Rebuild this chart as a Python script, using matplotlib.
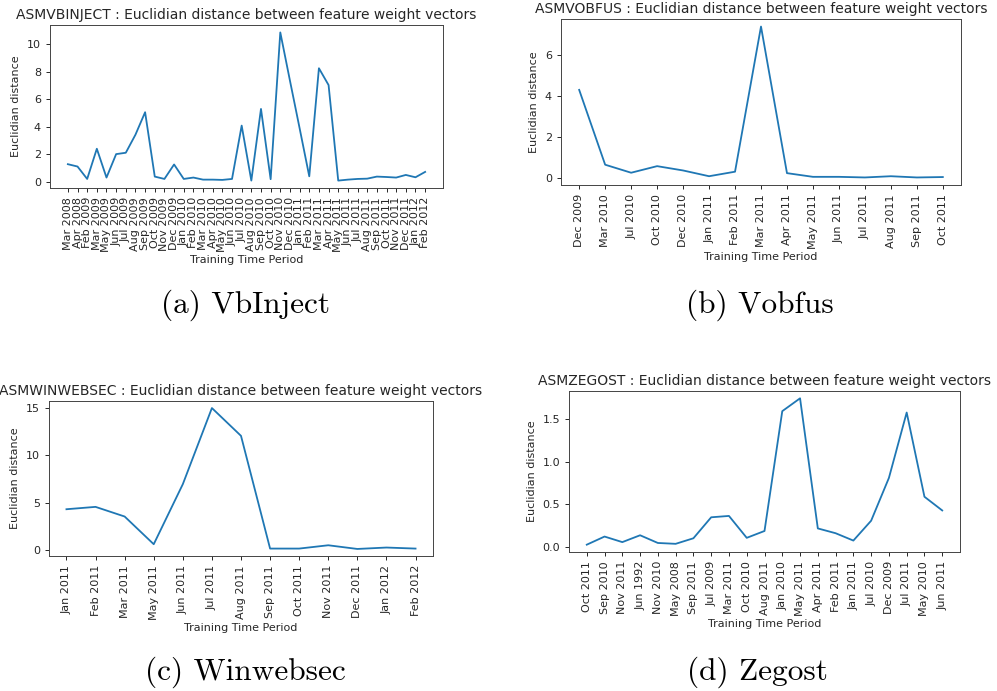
import matplotlib
matplotlib.use('Agg')
import matplotlib.pyplot as plt

W, H = 997, 691

# (a) VbInject
vbinject_labels = ['Mar 2008', 'Apr 2008', 'Feb 2009', 'Mar 2009', 'May 2009', 'Jun 2009',
                   'Jul 2009', 'Aug 2009', 'Sep 2009', 'Oct 2009', 'Nov 2009', 'Dec 2009',
                   'Jan 2010', 'Feb 2010', 'Mar 2010', 'Apr 2010', 'May 2010', 'Jun 2010',
                   'Jul 2010', 'Aug 2010', 'Sep 2010', 'Oct 2010', 'Nov 2010', 'Dec 2010',
                   'Jan 2011', 'Feb 2011', 'Mar 2011', 'Apr 2011', 'May 2011', 'Jun 2011',
                   'Jul 2011', 'Aug 2011', 'Sep 2011', 'Oct 2011', 'Nov 2011', 'Dec 2011',
                   'Jan 2012', 'Feb 2012']
vbinject_vals = [1.29, 1.12, 0.22, 2.41, 0.32, 2.02, 2.12, 3.43, 5.06, 0.39, 0.22, 1.27,
                 0.22, 0.32, 0.17, 0.17, 0.15, 0.22, 4.09, 0.10, 5.30, 0.20, 10.85, 7.35,
                 3.90, 0.41, 8.25, 7.03, 0.10, 0.17, 0.22, 0.24, 0.39, 0.36, 0.32, 0.51,
                 0.34, 0.73]

# (b) Vobfus
vobfus_labels = ['Dec 2009', 'Mar 2010', 'Jul 2010', 'Oct 2010', 'Dec 2010', 'Jan 2011',
                 'Feb 2011', 'Mar 2011', 'Apr 2011', 'May 2011', 'Jun 2011', 'Jul 2011',
                 'Aug 2011', 'Sep 2011', 'Oct 2011']
vobfus_vals = [4.31, 0.67, 0.28, 0.60, 0.39, 0.11, 0.33, 7.39, 0.26, 0.08, 0.08, 0.05,
               0.11, 0.05, 0.07]

# (c) Winwebsec
winwebsec_labels = ['Jan 2011', 'Feb 2011', 'Mar 2011', 'May 2011', 'Jun 2011', 'Jul 2011',
                    'Aug 2011', 'Sep 2011', 'Oct 2011', 'Nov 2011', 'Dec 2011', 'Jan 2012',
                    'Feb 2012']
winwebsec_vals = [4.30, 4.55, 3.53, 0.60, 6.95, 15.0, 12.06, 0.14, 0.14, 0.49, 0.10, 0.25, 0.14]

# (d) Zegost
zegost_labels = ['Oct 2011', 'Sep 2010', 'Nov 2011', 'Jun 1992', 'Nov 2010', 'May 2008',
                 'Sep 2011', 'Jul 2009', 'Mar 2011', 'Oct 2010', 'Aug 2011', 'Jan 2010',
                 'May 2011', 'Apr 2011', 'Feb 2011', 'Jan 2011', 'Jul 2010', 'Dec 2009',
                 'Jul 2011', 'May 2010', 'Jun 2011']
zegost_vals = [0.03, 0.125, 0.06, 0.14, 0.05, 0.04, 0.105, 0.35, 0.366, 0.11, 0.19, 1.59,
               1.74, 0.22, 0.164, 0.078, 0.31, 0.81, 1.574, 0.59, 0.43]

panels = [
    ('ASMVBINJECT', vbinject_labels, vbinject_vals, (50, 25, 443, 188), '(a) VbInject', (245, 305), None),
    ('ASMVOBFUS', vobfus_labels, vobfus_vals, (561, 19, 961, 185), '(b) Vobfus', (760, 305), None),
    ('ASMWINWEBSEC', winwebsec_labels, winwebsec_vals, (49, 401, 433, 556), '(c) Winwebsec', (245, 672), [0, 5, 10, 15]),
    ('ASMZEGOST', zegost_labels, zegost_vals, (569, 391, 960, 552), '(d) Zegost', (757, 672), None),
]

txt = '#262626'
fig = plt.figure(figsize=(W / 100, H / 100), dpi=100)

for name, labels, vals, (x0, y0, x1, y1), cap, (cx, cy), yt in panels:
    ax = fig.add_axes([x0 / W, 1 - y1 / H, (x1 - x0) / W, (y1 - y0) / H])
    x = list(range(len(vals)))
    ax.plot(x, vals, color='#1f77b4', lw=1.3)
    ax.set_xticks(x)
    ax.set_xticklabels(labels, rotation=90, fontsize=8, color=txt)
    if yt is not None:
        ax.set_yticks(yt)
    ax.tick_params(axis='y', labelsize=8, labelcolor=txt)
    ax.tick_params(length=3, width=0.7, colors=txt)
    ax.set_title(name + ' : Euclidian distance between feature weight vectors',
                 fontsize=10, color=txt, pad=4)
    ax.set_ylabel('Euclidian distance', fontsize=8, color=txt)
    ax.set_xlabel('Training Time Period', fontsize=8, color=txt, labelpad=2)
    for s in ax.spines.values():
        s.set_linewidth(0.7)
        s.set_color('#444444')
    fig.text(cx / W, 1 - cy / H, cap, family='cmr10', fontsize=22.5,
             ha='center', va='center', color='black')

fig.savefig('out.png', dpi=100)
